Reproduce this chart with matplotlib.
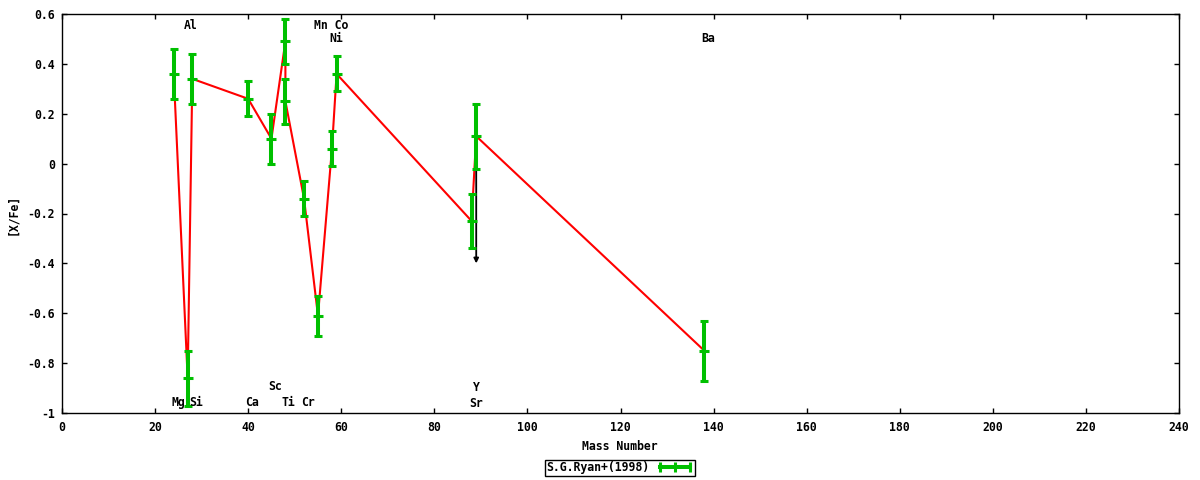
import matplotlib
matplotlib.use('Agg')
import matplotlib.pyplot as plt
from matplotlib.lines import Line2D

# ---- data ----
mass = [24, 27, 28, 40, 45, 48, 48, 52, 55, 58, 59, 88, 89, 138]
xfe = [0.36, -0.86, 0.34, 0.26, 0.10, 0.49, 0.25, -0.14, -0.61, 0.06, 0.36, -0.23, 0.11, -0.75]
err = [0.10, 0.11, 0.10, 0.07, 0.10, 0.09, 0.09, 0.07, 0.08, 0.07, 0.07, 0.11, 0.13, 0.12]

# upper-limit arrow (Y)
limit_x = 89
limit_from = 0.11
limit_to = -0.40

label_text = ['Al', 'Mn Co', 'Ni', 'Ba', 'Sc', 'Y', 'Mg', 'Si', 'Ca', 'Ti', 'Cr', 'Sr']
label_x = [27.7, 57.8, 58.9, 138.9, 45.7, 89.0, 25.1, 28.8, 40.8, 48.7, 52.8, 89.0]
label_y = [0.553, 0.553, 0.503, 0.503, -0.895, -0.896, -0.959, -0.959, -0.959, -0.959, -0.959, -0.962]

xticks = [0, 20, 40, 60, 80, 100, 120, 140, 160, 180, 200, 220, 240]
yticks = [-1, -0.8, -0.6, -0.4, -0.2, 0, 0.2, 0.4, 0.6]
ytick_labels = ['-1', '-0.8', '-0.6', '-0.4', '-0.2', '0', '0.2', '0.4', '0.6']
legend_label = 'S.G.Ryan+(1998)'

# ---- style ----
FONT = 'DejaVu Sans Mono'
FS = 8.3
GREEN = '#00c000'
plt.rcParams['font.family'] = FONT
plt.rcParams['font.weight'] = 'bold'
plt.rcParams['font.size'] = FS

fig = plt.figure(figsize=(12, 4.8), dpi=100)
ax = fig.add_axes([62/1200, 1 - 413/480, (1179 - 62)/1200, (413 - 14)/480])

ax.plot(mass, xfe, color='red', lw=1.5, zorder=2)
ax.annotate('', xy=(limit_x, limit_to), xytext=(limit_x, limit_from),
            arrowprops=dict(arrowstyle='-|>', color='black', lw=1.3,
                            mutation_scale=7, shrinkA=0, shrinkB=0),
            zorder=3)
ax.errorbar(mass, xfe, yerr=err, fmt='none', ecolor=GREEN, elinewidth=2.9,
            capsize=3.2, capthick=2.2, zorder=4)
ax.plot(mass, xfe, linestyle='none', marker='_', markersize=7.5,
        markeredgewidth=2.2, color=GREEN, zorder=5)

for t, x, y in zip(label_text, label_x, label_y):
    ax.text(x, y, t, ha='center', va='center', fontsize=FS,
            fontweight='bold', family=FONT, zorder=6)

ax.set_xlim(0, 240)
ax.set_ylim(-1, 0.6)
ax.set_xticks(xticks)
ax.set_xticklabels([str(v) for v in xticks])
ax.set_yticks(yticks)
ax.set_yticklabels(ytick_labels)
ax.tick_params(direction='in', length=3.5, width=1, top=True, right=True,
               labelsize=FS)
ax.tick_params(axis='x', pad=6)
ax.tick_params(axis='y', pad=5)
for s in ax.spines.values():
    s.set_linewidth(1.0)
    s.set_color('black')

fig.text(12.3/1200, 1 - 214/480, '[X/Fe]', rotation=90, ha='center',
         va='center', fontsize=FS, fontweight='bold')
fig.text(620/1200, 1 - 447/480, 'Mass Number', ha='center', va='center',
         fontsize=FS, fontweight='bold')

handle = Line2D([], [], color=GREEN, lw=2.9, marker='|', markersize=7,
                markeredgewidth=2.2)
leg = fig.legend([handle], [legend_label], loc='center',
                 bbox_to_anchor=(620/1200, 1 - 468/480), numpoints=3,
                 markerfirst=False, handlelength=3.2, handletextpad=0.6,
                 borderpad=0.15, borderaxespad=0, fancybox=False,
                 framealpha=1, edgecolor='black', fontsize=FS)
leg.get_frame().set_linewidth(1.0)

fig.savefig('out.png', dpi=100)
